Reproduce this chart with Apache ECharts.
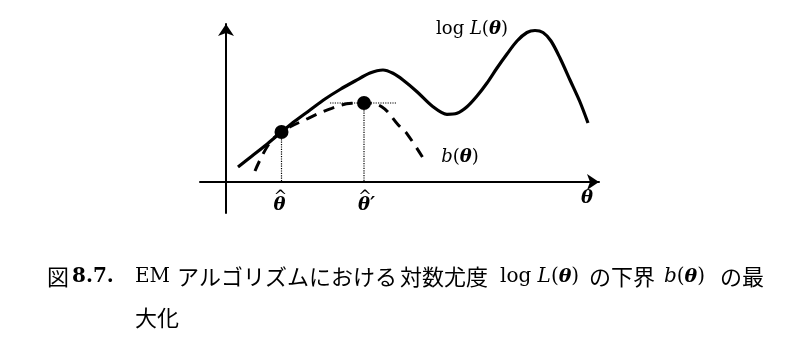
<!DOCTYPE html>
<html><head><meta charset="utf-8">
<script src="https://cdn.jsdelivr.net/npm/echarts@6/dist/echarts.min.js"></script>
<style>html,body{margin:0;padding:0;background:#fff}#c{width:792px;height:346px}</style>
</head><body><div id="c"></div>
<script>
// log L(theta) curve (arbitrary units)
const logLX = [1.2, 2.6, 4.0, 5.55, 6.9, 8.4, 9.9, 11.4, 12.9, 14.4, 15.7, 16.7, 17.7, 19.1, 20.7, 22.1, 23.1, 24.1, 25.1, 26.1, 27.1, 28.1, 29.1, 30.1, 30.9, 31.7, 32.5, 33.4, 34.4, 35.4, 36.2];
const logLY = [1.5, 2.6, 3.7, 5.0, 6.1, 7.2, 8.3, 9.25, 10.1, 10.9, 11.2, 10.87, 10.2, 9.03, 7.53, 6.77, 6.87, 7.53, 8.6, 9.9, 11.4, 12.8, 14.1, 14.95, 15.15, 14.95, 14.1, 12.4, 10.2, 8.0, 5.9];
// lower bound b(theta)
const bX = [2.9, 4.23, 5.55, 8.23, 10.57, 12.57, 13.8, 15.57, 17.23, 18.07, 20.07];
const bY = [1.1, 3.7, 5.0, 6.37, 7.37, 7.87, 7.9, 7.53, 5.7, 4.87, 1.8];
// touching point theta-hat and maximiser theta-hat'
const dotX = [5.55, 13.8];
const dotY = [5.0, 7.9];
// horizontal dotted guide through the maximum of b
const guideX = [10.4, 17.1];
// annotation labels (theta-hat, hat marks, theta-hat', axis theta, log L, b)
const labelX = [5.35, 5.45, 14.05, 13.9, 36.1, 24.6, 23.4];
const labelY = [-2.3, -1.55, -2.3, -1.55, -1.6, 15.3, 2.5];
const labelText = ['{bt|θ}', '{hat|^}', '{bt|θ′}', '{hat|^}', '{bt|θ}', '{rm|log }{it|L}{rm|(}{bt|θ}{rm|)}', '{it|b}{rm|(}{bt|θ}{rm|)}'];

const chart = echarts.init(document.getElementById('c'), null, {renderer: 'canvas'});
const zip = (xs, ys) => xs.map((x, i) => [x, ys[i]]);
const richLab = {
  bt: {fontFamily: 'DejaVu Serif', fontWeight: 'bold', fontStyle: 'italic', fontSize: 18, color: '#000'},
  hat: {fontFamily: 'DejaVu Serif', fontSize: 16, color: '#000'},
  rm: {fontFamily: 'DejaVu Serif', fontSize: 18, color: '#000'},
  it: {fontFamily: 'DejaVu Serif', fontStyle: 'italic', fontSize: 18, color: '#000'}
};
const dotted = {type: 'dotted', color: '#000', width: 1.2};
const guideSeries = [
  [[dotX[0], dotY[0]], [dotX[0], 0]],
  [[dotX[1], dotY[1]], [dotX[1], 0]],
  [[guideX[0], dotY[1]], [guideX[1], dotY[1]]]
].map(d => ({type: 'line', data: d, symbol: 'none', lineStyle: dotted, z: 1, silent: true}));

const capRich = {
  cj: {fontFamily: 'Noto Sans CJK JP', fontSize: 22, color: '#000'},
  rm: {fontFamily: 'DejaVu Serif', fontSize: 20, color: '#000'},
  it: {fontFamily: 'DejaVu Serif', fontStyle: 'italic', fontSize: 20, color: '#000'},
  bf: {fontFamily: 'DejaVu Serif', fontWeight: 'bold', fontSize: 20, color: '#000'},
  bt: {fontFamily: 'DejaVu Serif', fontWeight: 'bold', fontStyle: 'italic', fontSize: 19, color: '#000'}
};
const capPieces = [
  [47, 277, '{cj|図}'],
  [72, 277, '{bf|8.7.}'],
  [135, 277, '{rm|EM}'],
  [177, 277, '{cj|アルゴリズムにおける}'],
  [400, 277, '{cj|対数尤度}'],
  [500, 277, '{rm|log }{it|L}{rm|(}{bt|θ}{rm|)}'],
  [589, 277, '{cj|の下界}'],
  [664, 277, '{it|b}{rm|(}{bt|θ}{rm|)}'],
  [720, 277, '{cj|の最}'],
  [135, 318, '{cj|大化}']
];

chart.setOption({
  animation: false,
  grid: {left: 200, right: 193, top: 24, bottom: 133},
  xAxis: {
    type: 'value', min: -2.6, max: 37.3,
    axisLine: {show: true, onZero: true, symbol: ['none', 'arrow'], symbolSize: [12, 12], lineStyle: {color: '#000', width: 2}},
    axisTick: {show: false}, axisLabel: {show: false}, splitLine: {show: false}
  },
  yAxis: {
    type: 'value', min: -3.1, max: 15.8,
    axisLine: {show: true, onZero: true, symbol: ['none', 'arrow'], symbolSize: [12, 12], lineStyle: {color: '#000', width: 2}},
    axisTick: {show: false}, axisLabel: {show: false}, splitLine: {show: false}
  },
  series: [
    ...guideSeries,
    {type: 'line', data: zip(logLX, logLY), smooth: 0.3, symbol: 'none', lineStyle: {color: '#000', width: 3.2}, z: 3},
    {type: 'line', data: zip(bX, bY), smooth: 0.4, symbol: 'none', lineStyle: {color: '#000', width: 3, type: [11, 8]}, z: 3},
    {type: 'scatter', data: zip(dotX, dotY), symbol: 'circle', symbolSize: 14, itemStyle: {color: '#000', opacity: 1}, z: 4},
    {type: 'scatter', data: labelX.map((x, i) => ({value: [x, labelY[i]], label: {formatter: labelText[i]}})),
     symbolSize: 1, itemStyle: {color: 'rgba(0,0,0,0)', opacity: 1},
     label: {show: true, position: 'inside', align: 'center', verticalAlign: 'middle', rich: richLab}, z: 5}
  ],
  graphic: capPieces.map(p => ({
    type: 'text', x: p[0], y: p[1], silent: true,
    style: {text: p[2], rich: capRich, verticalAlign: 'middle', align: 'left', fill: '#000'}
  }))
});
</script></body></html>
